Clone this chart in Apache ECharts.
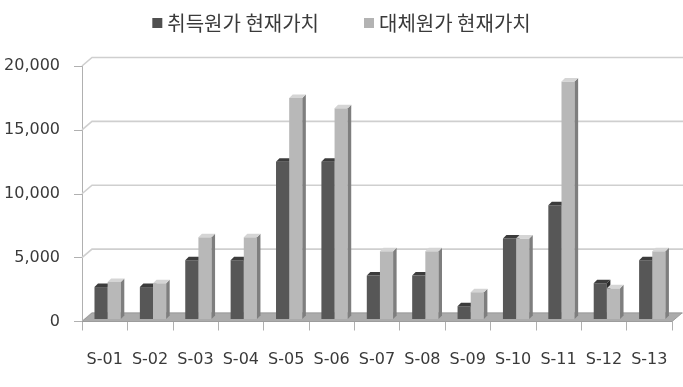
<!DOCTYPE html>
<html><head><meta charset="utf-8">
<script src="https://cdn.jsdelivr.net/npm/echarts@6/dist/echarts.min.js"></script>
<style>html,body{margin:0;padding:0;background:#fff}#c{width:683px;height:387px}</style>
</head><body><div id="c"></div>
<script>
const categories = ['S-01','S-02','S-03','S-04','S-05','S-06','S-07','S-08','S-09','S-10','S-11','S-12','S-13'];
const acquisitionPV = [2500,2500,4600,4600,12300,12300,3400,3400,1000,6300,8900,2800,4600];
const replacementPV = [2900,2800,6400,6400,17300,16500,5300,5300,2100,6300,18600,2400,5300];
const yTicks = [0,5000,10000,15000,20000];
const seriesNames = ['취득원가 현재가치','대체원가 현재가치'];

const DX = 10, DY = 8.5;
const chart = echarts.init(document.getElementById('c'), null, {renderer:'canvas'});

function barRenderer(kind){
  const pal = kind === 0
    ? {front:'#575757', top:'#3c3c3c', side:'#2c2c2c'}
    : {front:'#b8b8b8', top:'#d5d5d5', side:'#7e7e7e'};
  return function(params, api){
    const idx = api.value(0), v = api.value(1);
    const base = api.coord([idx, 0]);
    const topP = api.coord([idx, v]);
    const band = api.size([1, 0])[0];
    const w = band * 0.29;
    const x0 = base[0] - 0.225 * band + (kind === 0 ? 0 : w);
    const yb = base[1] - 2.5, yt = topP[1] - 2.5, d = 3.5;
    return {type:'group', children:[
      {type:'rect', shape:{x:x0, y:yt, width:w, height:yb-yt}, style:{fill:pal.front}},
      {type:'polygon', shape:{points:[[x0+w,yt],[x0+w+d,yt-d],[x0+w+d,yb-d],[x0+w,yb]]}, style:{fill:pal.side}},
      {type:'polygon', shape:{points:[[x0,yt],[x0+w,yt],[x0+w+d,yt-d],[x0+d,yt-d]]}, style:{fill:pal.top}}
    ]};
  };
}

const option = {
  backgroundColor:'#ffffff',
  animation:false,
  legend:{
    data: seriesNames, top:8, left:'center', icon:'rect', itemWidth:10, itemHeight:10, itemGap:45,
    textStyle:{fontSize:20, fontFamily:'Noto Sans CJK KR', color:'#3a3a3a'}
  },
  grid:{left:82, right:11, top:66, bottom:65.5, containLabel:false},
  xAxis:{
    type:'category', data:categories,
    axisLine:{show:true, lineStyle:{color:'#a8a8a8', width:1}},
    axisTick:{show:true, length:9, lineStyle:{color:'#b0b0b0'}},
    axisLabel:{margin:30, fontSize:16, fontFamily:'DejaVu Sans', color:'#3a3a3a', interval:0},
    splitLine:{show:false}
  },
  yAxis:{
    type:'value', min:0, max:20000, interval:5000,
    axisLine:{show:true, lineStyle:{color:'#b0b0b0'}},
    axisTick:{show:true, length:8, lineStyle:{color:'#b0b0b0'}},
    axisLabel:{margin:22, fontSize:16, fontFamily:'DejaVu Sans', color:'#3a3a3a',
      formatter:v => v.toLocaleString('en-US')},
    splitLine:{show:false}
  },
  series:[
    {
      type:'custom', name:'wall', silent:true, z:1, clip:false,
      data: yTicks.map(v => [0, v]),
      renderItem:function(params, api){
        const cs = params.coordSys;
        const y = api.coord([0, api.value(1)])[1];
        const x0 = cs.x, right = cs.x + cs.width + DX + 1;
        return {type:'polyline', shape:{points:[[x0,y],[x0+DX,y-DY],[right,y-DY]]},
           style:{stroke:'#cfcfcf', lineWidth:1.6, fill:null}};
      }
    },
    {
      type:'custom', name:'floor', silent:true, z:2, clip:false,
      data:[[0,0]],
      renderItem:function(params, api){
        const cs = params.coordSys;
        const yF = cs.y + cs.height, x0 = cs.x, x1 = cs.x + cs.width;
        return {type:'polygon', shape:{points:[[x0,yF],[x1,yF],[x1+DX,yF-DY],[x0+DX,yF-DY]]},
          style:{fill:'#ababab', stroke:'#9c9c9c', lineWidth:1}};
      }
    },
    {
      type:'custom', name:seriesNames[0], z:3, clip:false,
      itemStyle:{color:'#4f4f4f'},
      encode:{x:0, y:1},
      data: categories.map((c,i) => [i, acquisitionPV[i]]),
      renderItem: barRenderer(0)
    },
    {
      type:'custom', name:seriesNames[1], z:3, clip:false,
      itemStyle:{color:'#b3b3b3'},
      encode:{x:0, y:1},
      data: categories.map((c,i) => [i, replacementPV[i]]),
      renderItem: barRenderer(1)
    }
  ]
};
chart.setOption(option);
</script>
</body></html>
